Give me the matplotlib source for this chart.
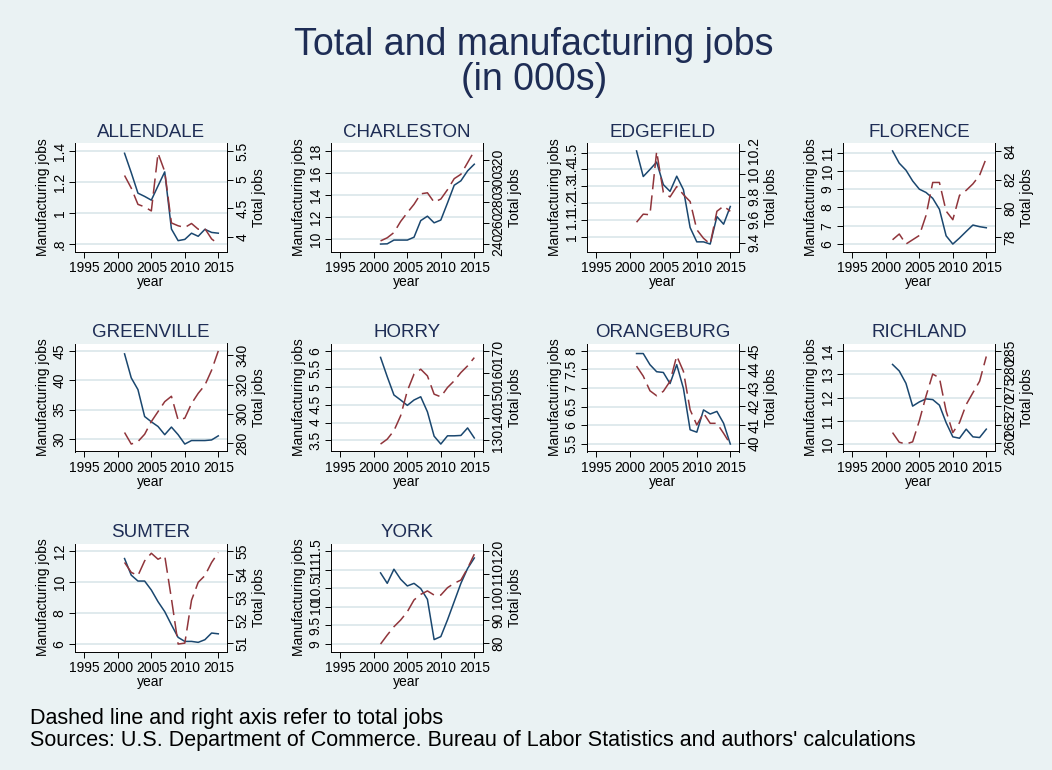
import matplotlib
matplotlib.use("Agg")
import matplotlib.pyplot as plt

plt.rcParams['font.family'] = ['Liberation Sans', 'DejaVu Sans']

# data (in 000s)
years = list(range(2001, 2016))

counties = ["ALLENDALE", "CHARLESTON", "EDGEFIELD", "FLORENCE", "GREENVILLE",
            "HORRY", "ORANGEBURG", "RICHLAND", "SUMTER", "YORK"]

allendale_mfg = [1.385, 1.26, 1.128, 1.107, 1.083, 1.175, 1.265, 0.897, 0.822, 0.83, 0.87, 0.85, 0.895, 0.875, 0.87]
allendale_tot = [5.07, 4.85, 4.565, 4.52, 4.45, 5.46, 5.14, 4.24, 4.19, 4.16, 4.23, 4.13, 4.14, 3.96, 3.87]
charleston_mfg = [9.58, 9.6, 9.94, 9.94, 9.94, 10.2, 11.7, 12.1, 11.5, 11.75, 13.3, 14.9, 15.3, 16.2, 16.8]
charleston_tot = [243, 246, 251, 261.6, 270, 278, 288, 289, 280, 283, 292, 302.5, 306.7, 317.8, 329]
edgefield_mfg = [1.51, 1.358, 1.40, 1.444, 1.31, 1.27, 1.36, 1.28, 1.055, 0.97, 0.97, 0.957, 1.12, 1.075, 1.18]
edgefield_tot = [9.58, 9.65, 9.645, 10.195, 9.84, 9.80, 9.89, 9.82, 9.76, 9.515, 9.44, 9.39, 9.675, 9.72, 9.675]
florence_mfg = [11.09, 10.42, 10.04, 9.45, 9.0, 8.82, 8.5, 7.9, 6.45, 6.0, 6.33, 6.69, 7.04, 6.95, 6.89]
florence_tot = [77.8, 78.2, 77.5, 77.8, 78.1, 79.5, 81.8, 81.8, 79.8, 79.2, 80.9, 81.25, 81.7, 82.3, 83.5]
greenville_mfg = [44.5, 40.4, 38.4, 33.8, 32.9, 32.1, 30.7, 32.0, 30.7, 29.1, 29.7, 29.7, 29.7, 29.8, 30.5]
greenville_tot = [287.2, 279.3, 281, 286, 294.7, 301.5, 308.3, 312, 295.8, 297, 307, 314, 319.6, 329.8, 343]
horry_mfg = [5.82, 5.28, 4.77, 4.63, 4.48, 4.63, 4.72, 4.30, 3.62, 3.40, 3.63, 3.63, 3.64, 3.85, 3.57]
horry_tot = [128.2, 130.4, 134.2, 140.9, 152.1, 159.6, 161.8, 158.8, 150.6, 149.4, 153.6, 156.6, 160.3, 163.3, 167]
orangeburg_mfg = [7.93, 7.93, 7.63, 7.44, 7.42, 7.12, 7.63, 6.99, 5.875, 5.81, 6.41, 6.30, 6.37, 6.05, 5.49]
orangeburg_tot = [44.18, 43.64, 42.85, 42.58, 42.82, 43.36, 44.73, 43.9, 41.82, 41.0, 41.64, 41.09, 41.09, 40.55, 39.97]
richland_mfg = [13.42, 13.14, 12.61, 11.63, 11.81, 11.94, 11.91, 11.67, 10.92, 10.31, 10.25, 10.64, 10.31, 10.28, 10.64]
richland_tot = [262.9, 260.3, 259.8, 260.4, 266.1, 272.8, 278.75, 277.7, 268.75, 262.9, 265.6, 270.5, 273.7, 276.8, 283.5]
sumter_mfg = [11.51, 10.44, 10.06, 10.06, 9.48, 8.73, 8.09, 7.24, 6.43, 6.17, 6.17, 6.11, 6.28, 6.71, 6.66]
sumter_tot = [54.5, 54.07, 53.93, 54.57, 54.9, 54.64, 54.79, 52.93, 50.96, 51.0, 52.86, 53.64, 53.93, 54.5, 54.93]
york_mfg = [10.91, 10.63, 11.01, 10.74, 10.56, 10.63, 10.49, 10.20, 9.12, 9.20, 9.65, 10.14, 10.63, 11.03, 11.31]
york_tot = [79.7, 83.6, 87.2, 90.1, 93.7, 98.8, 101.2, 102.7, 100.9, 100.9, 104.1, 106, 107.4, 112.5, 118.6]

mfg = [allendale_mfg, charleston_mfg, edgefield_mfg, florence_mfg, greenville_mfg,
       horry_mfg, orangeburg_mfg, richland_mfg, sumter_mfg, york_mfg]
tot = [allendale_tot, charleston_tot, edgefield_tot, florence_tot, greenville_tot,
       horry_tot, orangeburg_tot, richland_tot, sumter_tot, york_tot]

# axis tick values
left_ticks = [[0.8, 1, 1.2, 1.4], [10, 12, 14, 16, 18], [1, 1.1, 1.2, 1.3, 1.4, 1.5],
              [6, 7, 8, 9, 10, 11], [30, 35, 40, 45], [3.5, 4, 4.5, 5, 5.5, 6],
              [5.5, 6, 6.5, 7, 7.5, 8], [10, 11, 12, 13, 14], [6, 8, 10, 12],
              [9, 9.5, 10, 10.5, 11, 11.5]]
right_ticks = [[4, 4.5, 5, 5.5], [240, 260, 280, 300, 320], [9.4, 9.6, 9.8, 10, 10.2],
               [78, 80, 82, 84], [280, 300, 320, 340], [130, 140, 150, 160, 170],
               [40, 41, 42, 43, 44, 45], [260, 265, 270, 275, 280, 285], [51, 52, 53, 54, 55],
               [80, 90, 100, 110, 120]]
year_ticks = [1995, 2000, 2005, 2010, 2015]

bg = '#EAF2F3'
navy = '#1E2D55'
blue = '#1A476F'
red = '#90353B'
gridc = '#E0EAED'
W, H = 1052, 770
fs = 10


def fmt(v):
    s = '%g' % v
    if s.startswith('0.'):
        s = s[1:]
    return s


def lims(data, ticks, pad=0.08):
    lo = min(min(data), ticks[0])
    hi = max(max(data), ticks[-1])
    d = (hi - lo) * pad
    return lo - d, hi + d


fig = plt.figure(figsize=(W / 100, H / 100), dpi=100, facecolor=bg)

for i, name in enumerate(counties):
    row, col = i // 4, i % 4
    left = 75 + 256 * col
    top = 143.5 + 200 * row
    ax = fig.add_axes([left / W, 1 - (top + 108) / H, 152 / W, 108 / H])
    ax.set_facecolor('white')
    ax.plot(years, mfg[i], color=blue, lw=1.1)
    ax2 = ax.twinx()
    ax2.plot(years, tot[i], color=red, lw=1.1, dashes=(10, 4))

    ax.set_xlim(1993.6, 2016.3)
    ax.set_xticks(year_ticks)
    ax.set_ylim(*lims(mfg[i], left_ticks[i]))
    ax2.set_ylim(*lims(tot[i], right_ticks[i]))
    ax.set_yticks(left_ticks[i])
    ax.set_yticklabels([fmt(t) for t in left_ticks[i]], rotation=90, va='center')
    ax2.set_yticks(right_ticks[i])
    ax2.set_yticklabels([fmt(t) for t in right_ticks[i]], rotation=90, va='center')

    for a in (ax, ax2):
        a.tick_params(length=4, width=0.7, labelsize=fs, pad=2, colors='black')
        for s in a.spines.values():
            s.set_visible(False)
            s.set_linewidth(0.7)
    ax.tick_params(axis='x', pad=3)
    ax.spines['left'].set_visible(True)
    ax.spines['bottom'].set_visible(True)
    ax2.spines['right'].set_visible(True)

    ax.grid(axis='y', color=gridc, lw=1.4)
    ax.set_axisbelow(True)
    ax.set_ylabel('Manufacturing jobs', fontsize=fs, labelpad=2)
    ax2.set_ylabel('Total jobs', fontsize=fs, labelpad=2)
    ax.set_xlabel('year', fontsize=fs, labelpad=0)
    ax.set_title(name, fontsize=13.5, color=navy, pad=5)

fig.text(534 / W, 1 - 55 / H, 'Total and manufacturing jobs', ha='center', va='baseline',
         fontsize=27, color=navy)
fig.text(534 / W, 1 - 90 / H, '(in 000s)', ha='center', va='baseline',
         fontsize=27, color=navy)
fig.text(30 / W, 1 - 724 / H, 'Dashed line and right axis refer to total jobs',
         ha='left', va='baseline', fontsize=15.5, color='black')
fig.text(30 / W, 1 - 746 / H,
         "Sources: U.S. Department of Commerce. Bureau of Labor Statistics and authors' calculations",
         ha='left', va='baseline', fontsize=15.5, color='black')

fig.savefig('out.png', dpi=100, facecolor=bg)
